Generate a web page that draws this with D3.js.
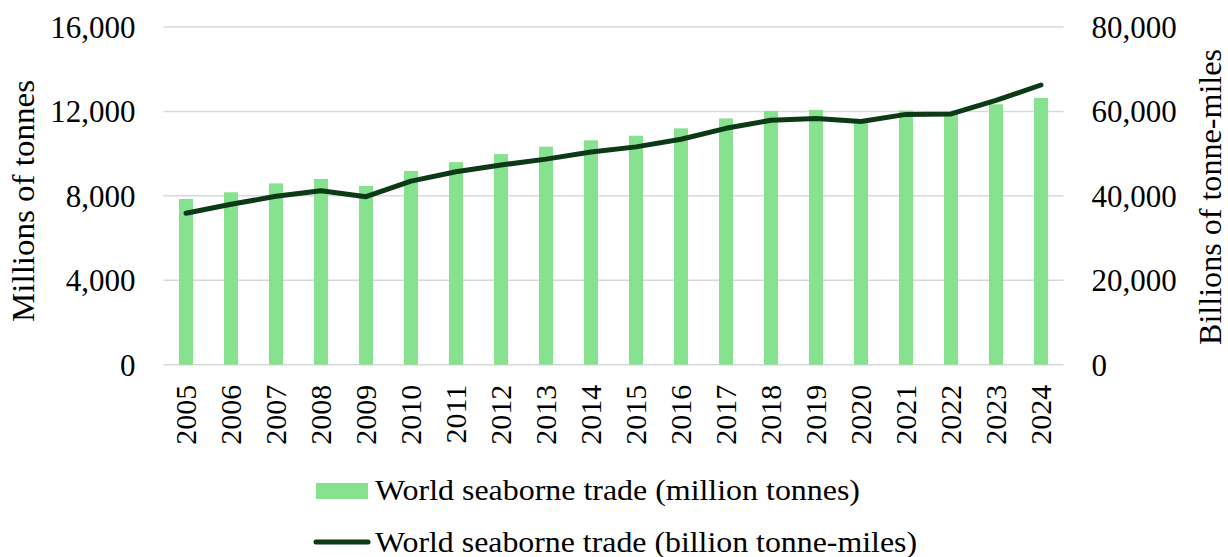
<!DOCTYPE html>
<html>
<head>
<meta charset="utf-8">
<script src="https://cdn.jsdelivr.net/npm/d3@7"></script>
<style>
  html, body { margin: 0; padding: 0; background: #fff; }
  svg text { font-family: "Liberation Serif", "Times New Roman", serif; fill: #000; }
</style>
</head>
<body>
<svg id="chart" width="1228" height="557"></svg>
<script>
// World seaborne trade, 2005-2024
const years = ["2005","2006","2007","2008","2009","2010","2011","2012","2013","2014",
               "2015","2016","2017","2018","2019","2020","2021","2022","2023","2024"];
// million tonnes (bars, left axis)
const tonnes = [7850, 8170, 8590, 8800, 8470, 9180, 9600, 9980, 10330, 10630,
                10850, 11200, 11670, 12020, 12070, 11560, 12040, 11950, 12340, 12640];
// billion tonne-miles (line, right axis)
const tonneMiles = [35870, 38000, 39900, 41200, 39800, 43500, 45700, 47300, 48700, 50400,
                    51600, 53400, 56000, 57900, 58300, 57600, 59300, 59400, 62600, 66260];
const leftTicks = [0, 4000, 8000, 12000, 16000];
const rightTicks = [0, 20000, 40000, 60000, 80000];
const legendLabels = ["World seaborne trade (million tonnes)", "World seaborne trade (billion tonne-miles)"];

const barColor = "#86e28f";
const lineColor = "#0c3a16";
const gridColor = "#d9d9d9";

const svg = d3.select("#chart");
const m = { left: 163.5, right: 1063.5, top: 27, bottom: 364.7 };

const x = d3.scaleBand().domain(years).range([m.left, m.right]).paddingInner(0).paddingOuter(0);
const yL = d3.scaleLinear().domain([0, 16000]).range([m.bottom, m.top]);
const yR = d3.scaleLinear().domain([0, 80000]).range([m.bottom, m.top]);
const fmt = d3.format(",");

// gridlines
svg.append("g").selectAll("line").data(leftTicks).join("line")
  .attr("x1", m.left).attr("x2", m.right)
  .attr("y1", d => yL(d)).attr("y2", d => yL(d))
  .attr("stroke", gridColor).attr("stroke-width", 1.5);

// left axis
const gL = svg.append("g").attr("transform", `translate(${m.left - 28},0)`)
  .call(d3.axisLeft(yL).tickValues(leftTicks).tickFormat(fmt).tickSize(0).tickPadding(0));
gL.select(".domain").remove();
gL.selectAll("text").style("font-size", "31px").attr("dy", "0.34em");

// right axis
const gR = svg.append("g").attr("transform", `translate(${m.right + 28},0)`)
  .call(d3.axisRight(yR).tickValues(rightTicks).tickFormat(fmt).tickSize(0).tickPadding(0));
gR.select(".domain").remove();
gR.selectAll("text").style("font-size", "31px").attr("dy", "0.34em");

// bottom axis: rotated year labels
const gB = svg.append("g").attr("transform", `translate(0,${m.bottom + 20})`)
  .call(d3.axisBottom(x).tickSize(0).tickPadding(0));
gB.select(".domain").remove();
gB.selectAll("text")
  .style("font-size", "30px")
  .attr("text-anchor", "end")
  .attr("transform", "rotate(-90)")
  .attr("x", 0).attr("y", 0).attr("dx", 0).attr("dy", "0.34em");

// bars
const barW = 14;
svg.append("g").selectAll("rect").data(years).join("rect")
  .attr("x", (d) => x(d) + x.bandwidth() / 2 - barW / 2)
  .attr("width", barW)
  .attr("y", (d, i) => yL(tonnes[i]))
  .attr("height", (d, i) => yL(0) - yL(tonnes[i]))
  .attr("fill", barColor);

// line
const line = d3.line()
  .x((d, i) => x(years[i]) + x.bandwidth() / 2)
  .y(d => yR(d));
svg.append("path").datum(tonneMiles)
  .attr("d", line)
  .attr("fill", "none")
  .attr("stroke", lineColor)
  .attr("stroke-width", 5)
  .attr("stroke-linecap", "round")
  .attr("stroke-linejoin", "round");

// axis titles (slightly widened lettering)
svg.append("text")
  .attr("transform", `translate(34,201) rotate(-90)`)
  .attr("x", -121)
  .attr("textLength", 242).attr("lengthAdjust", "spacingAndGlyphs")
  .style("font-size", "31px")
  .text("Millions of tonnes");
svg.append("text")
  .attr("transform", `translate(1221,197) rotate(-90)`)
  .attr("x", -148)
  .attr("textLength", 296).attr("lengthAdjust", "spacingAndGlyphs")
  .style("font-size", "31px")
  .text("Billions of tonne-miles");

// legend
const legendWidths = [485, 542];
const lg = svg.append("g");
lg.append("rect").attr("x", 316).attr("y", 483).attr("width", 52).attr("height", 16).attr("fill", barColor);
lg.append("line").attr("x1", 316).attr("x2", 368).attr("y1", 542).attr("y2", 542)
  .attr("stroke", lineColor).attr("stroke-width", 5).attr("stroke-linecap", "round");
lg.selectAll("text.lbl").data(legendLabels).join("text")
  .attr("class", "lbl")
  .attr("x", 375)
  .attr("y", (d, i) => i === 0 ? 500 : 552)
  .attr("textLength", (d, i) => legendWidths[i]).attr("lengthAdjust", "spacingAndGlyphs")
  .style("font-size", "30px")
  .text(d => d);
</script>
</body>
</html>
